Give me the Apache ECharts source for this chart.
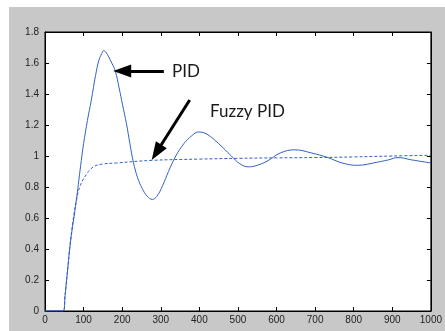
<!DOCTYPE html>
<html>
<head>
<meta charset="utf-8">
<script src="https://cdn.jsdelivr.net/npm/echarts@6/dist/echarts.min.js"></script>
<style>
  html, body { margin: 0; padding: 0; background: #fff; }
  #chart { width: 445px; height: 331px; }
</style>
</head>
<body>
<div id="chart"></div>
<script>
// step response
const pidX = [0, 47, 52, 56, 60, 64, 70, 76, 82, 88, 94, 100, 110, 120, 131, 140, 147, 152, 158, 165,
  173, 182, 192, 201, 211, 220, 229, 240, 252, 265, 278, 290, 305, 320, 339, 360, 380, 398, 420, 450,
  483, 505, 527, 550, 578, 610, 648, 690, 733, 770, 810, 861, 890, 915, 950, 1000];
const pidY = [0, 0, 0.1, 0.2, 0.3, 0.4, 0.52, 0.62, 0.73, 0.85, 0.97, 1.08, 1.23, 1.36, 1.52, 1.62, 1.66, 1.68, 1.67, 1.64,
  1.6, 1.55, 1.44, 1.33, 1.21, 1.08, 0.96, 0.86, 0.79, 0.74, 0.72, 0.74, 0.81, 0.9, 1.0, 1.08, 1.13, 1.155, 1.14, 1.08,
  1.0, 0.95, 0.93, 0.94, 0.97, 1.02, 1.04, 1.02, 0.99, 0.955, 0.94, 0.96, 0.975, 0.99, 0.975, 0.955];

const fuzzyX = [0, 47, 52, 56, 60, 64, 70, 76, 82, 85, 90, 98, 107, 116, 129, 149, 185, 278, 400, 500, 600, 700, 800, 900, 1000];
const fuzzyY = [0, 0, 0.1, 0.2, 0.3, 0.41, 0.53, 0.64, 0.72, 0.76, 0.8, 0.845, 0.88, 0.91, 0.935, 0.948, 0.955, 0.972, 0.98, 0.985, 0.988, 0.99, 0.994, 1.0, 1.005];

// annotation arrows in data units: [tail, tip]
const pidArrow = [[308, 1.548], [200, 1.548]];
const fuzzyArrow = [[375, 1.361], [289, 1.024]];

const xTicks = { min: 0, max: 1000, interval: 100 };
const yTicks = { min: 0, max: 1.8, interval: 0.2 };

const chart = echarts.init(document.getElementById('chart'), null, { renderer: 'canvas' });

const zip = (xs, ys) => xs.map((x, i) => [x, ys[i]]);
const labelStyle = { color: '#222', fontSize: 10, fontFamily: 'Liberation Sans, Arial, sans-serif' };
const axisBase = {
  type: 'value',
  axisLine: { show: true, onZero: false, lineStyle: { color: '#000', width: 1 } },
  axisTick: { show: true, inside: true, length: 4, lineStyle: { color: '#000' } },
  splitLine: { show: false },
};
const arrowLine = (pts) => ({
  silent: true,
  symbol: ['none', 'triangle'],
  symbolSize: [13, 18],
  label: { show: false },
  lineStyle: { color: '#000', width: 3, type: 'solid' },
  data: [[{ coord: pts[0] }, { coord: pts[1] }]],
});

const option = {
  backgroundColor: '#fff',
  animation: false,
  graphic: [
    { type: 'rect', z: -10, shape: { x: 9, y: 7, width: 436, height: 324 }, style: { fill: '#c8c8c8' } },
    { type: 'text', left: 172, top: 63, style: { text: 'PID', fill: '#1a1a1a', font: '17px Lato, "Open Sans", sans-serif' } },
    { type: 'text', left: 210, top: 103, style: { text: 'Fuzzy PID', fill: '#1a1a1a', font: '17px Lato, "Open Sans", sans-serif' } },
  ],
  grid: {
    left: 45, right: 11, top: 32, bottom: 20,
    show: true, backgroundColor: '#fff', borderColor: '#000', borderWidth: 1,
  },
  xAxis: [
    { ...axisBase, ...xTicks, position: 'bottom', axisLabel: { ...labelStyle, margin: 4, formatter: v => String(v) } },
    { ...axisBase, ...xTicks, position: 'top', axisLabel: { show: false } },
  ],
  yAxis: [
    { ...axisBase, ...yTicks, position: 'left', axisLabel: { ...labelStyle, margin: 6 } },
    { ...axisBase, ...yTicks, position: 'right', axisLabel: { show: false } },
  ],
  series: [
    {
      name: 'PID',
      type: 'line',
      data: zip(pidX, pidY),
      symbol: 'none',
      smooth: 0.4,
      lineStyle: { color: '#3560c0', width: 1 },
      markLine: arrowLine(pidArrow),
    },
    {
      name: 'Fuzzy PID',
      type: 'line',
      data: zip(fuzzyX, fuzzyY),
      symbol: 'none',
      smooth: 0.4,
      lineStyle: { color: '#3560c0', width: 1, type: [3, 2] },
      markLine: arrowLine(fuzzyArrow),
    },
  ],
};

chart.setOption(option);
</script>
</body>
</html>
